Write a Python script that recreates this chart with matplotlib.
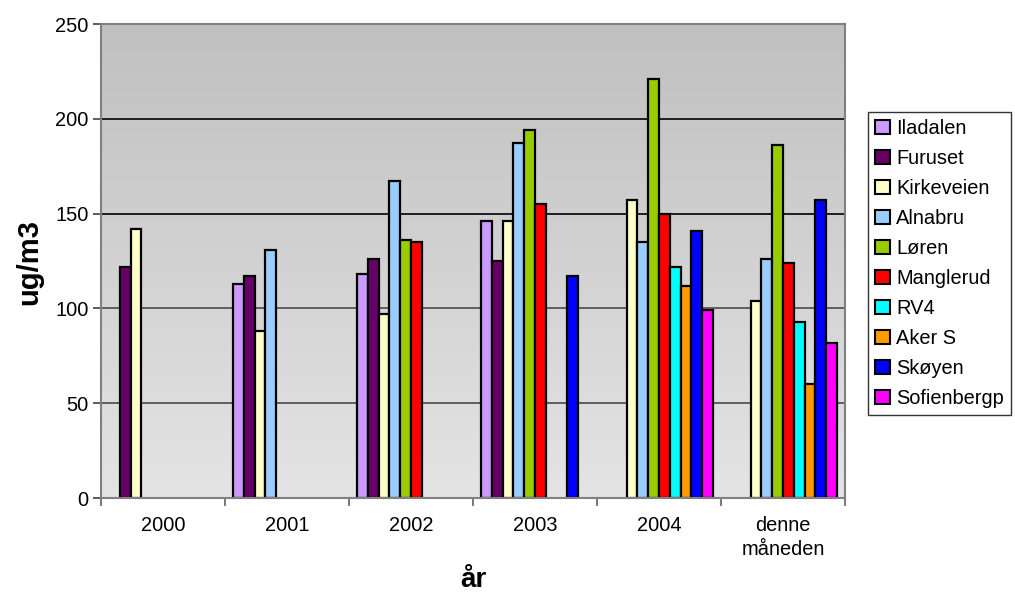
import numpy as np
import matplotlib
matplotlib.use("Agg")
import matplotlib.pyplot as plt
from matplotlib.patches import Patch

nan = np.nan
categories = ["2000", "2001", "2002", "2003", "2004", "denne\nmåneden"]
series_names = ["Iladalen", "Furuset", "Kirkeveien", "Alnabru", "Løren",
                "Manglerud", "RV4", "Aker S", "Skøyen", "Sofienbergp"]
iladalen = [nan, 113, 118, 146, nan, nan]
furuset = [122, 117, 126, 125, nan, nan]
kirkeveien = [142, 88, 97, 146, 157, 104]
alnabru = [nan, 131, 167, 187, 135, 126]
loren = [nan, nan, 136, 194, 221, 186]
manglerud = [nan, nan, 135, 155, 150, 124]
rv4 = [nan, nan, nan, nan, 122, 93]
aker_s = [nan, nan, nan, nan, 112, 60]
skoyen = [nan, nan, nan, 117, 141, 157]
sofienbergp = [nan, nan, nan, nan, 99, 82]
series_values = [iladalen, furuset, kirkeveien, alnabru, loren,
                 manglerud, rv4, aker_s, skoyen, sofienbergp]
colors = ["#CC99FF", "#660066", "#FFFFCC", "#99CCFF", "#99CC00",
          "#FF0000", "#00FFFF", "#FF9900", "#0000FF", "#FF00FF"]
yticks = [0, 50, 100, 150, 200, 250]

plt.rcParams["font.family"] = ["Liberation Sans", "DejaVu Sans"]

fig = plt.figure(figsize=(10.15, 6.13), dpi=100)
ax = fig.add_axes([101/1015, 1-498/613, 744/1015, 474/613])

# gradient background
grad = np.linspace(0, 1, 256).reshape(-1, 1)
top = np.array([192, 192, 192]) / 255
bot = np.array([228, 228, 228]) / 255
img = top[None, None, :] * (1 - grad[:, :, None]) + bot[None, None, :] * grad[:, :, None]
ax.imshow(img, extent=[0, 1, 0, 1], transform=ax.transAxes, aspect="auto", zorder=0)

n = len(series_names)
w = 1.0 / (n + 1.5)
x = np.arange(len(categories))
for k, (vals, c) in enumerate(zip(series_values, colors)):
    vals = np.array(vals, dtype=float)
    pos = x - 0.5 + 0.75 * w + (k + 0.5) * w
    m = ~np.isnan(vals)
    ax.bar(pos[m], vals[m], width=w, color=c, edgecolor="black",
           linewidth=1.6, zorder=3)

ax.set_xlim(-0.5, len(categories) - 0.5)
ax.set_ylim(0, 250)
ax.set_yticks(yticks)
ax.set_yticklabels([str(v) for v in yticks])
ax.set_xticks(x)
ax.set_xticklabels(categories)
ax.set_xticks(np.arange(len(categories) + 1) - 0.5, minor=True)
ax.tick_params(axis="x", which="major", length=0, pad=13, labelsize=14.4)
ax.tick_params(axis="x", which="minor", length=6, width=1.2, color="#606060", direction="out")
ax.tick_params(axis="y", length=6, width=1.2, color="#404040", direction="out", pad=3, labelsize=14.4)
for lab in ax.get_xticklabels():
    lab.set_linespacing(1.3)

ax.set_axisbelow(False)
ax.yaxis.grid(True, linewidth=1.3, zorder=1)
for v, gl in zip(yticks, ax.get_ygridlines()):
    gl.set_zorder(1)
    gl.set_color("#101010" if v >= 150 else "#555555")
    if v in (0, 250):
        gl.set_visible(False)

for s in ax.spines.values():
    s.set_color("#808080")
    s.set_linewidth(1.5)
    s.set_zorder(4)

fig.text(29/1015, 1-262/613, "ug/m3", rotation=90, ha="center", va="center",
         fontsize=21, fontweight="bold")
fig.text(473/1015, 1-580/613, "år", ha="center", va="center",
         fontsize=20, fontweight="bold")

handles = [Patch(facecolor=c, edgecolor="black", linewidth=1.5) for c in colors]
leg = fig.legend(handles, series_names, loc="upper left",
                 bbox_to_anchor=(868/1015, 1-112/613), fontsize=14.4,
                 frameon=True, fancybox=False, shadow=False,
                 handlelength=0.75, handleheight=0.65, handletextpad=0.3,
                 labelspacing=0.55, borderpad=0.35, borderaxespad=0)
leg.get_frame().set_edgecolor("black")
leg.get_frame().set_linewidth(1.0)

fig.savefig("out.png", dpi=100, facecolor="white")
